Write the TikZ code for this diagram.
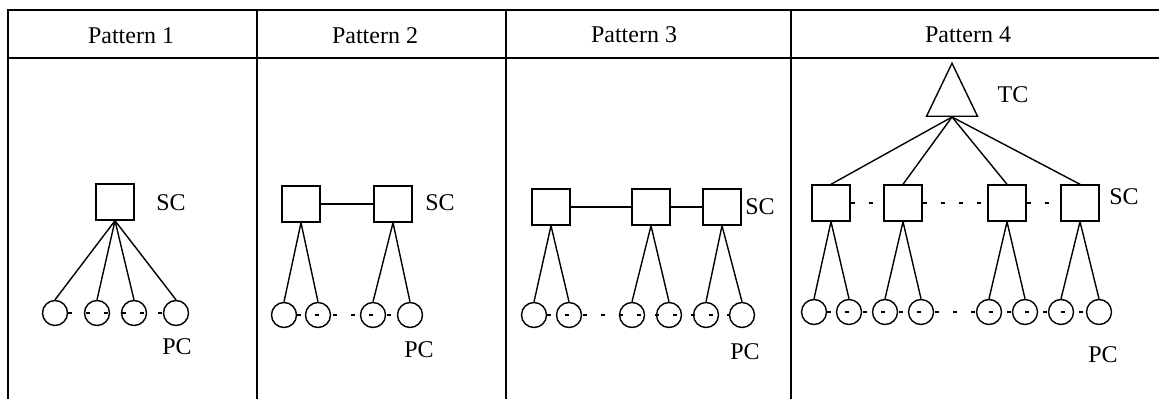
\documentclass[tikz,border=0pt]{standalone}
\usepackage{fontspec}
\setmainfont{Liberation Serif}
\usetikzlibrary{shapes.geometric}
\tikzset{
  sqbox/.style={draw, line width=0.7pt, minimum width=19pt, minimum height=18pt, inner sep=0pt},
  pcirc/.style={draw, circle, line width=0.7pt, minimum size=12.5pt, inner sep=0pt},
  tctri/.style={draw, isosceles triangle, isosceles triangle stretches, shape border rotate=90,
    minimum width=25.5pt, minimum height=26.5pt, inner sep=0pt, line width=0.7pt},
  link/.style={line width=0.7pt},
  dotlink/.style={line width=0.7pt, dash pattern=on 2pt off 7pt},
  lbl/.style={font=\fontsize{12}{14}\selectfont, inner sep=0pt}
}

\begin{document}
\begin{tikzpicture}[x=0.5pt,y=-0.5pt]
\useasboundingbox (0,0) rectangle (1159,399);
% Table frame
\draw[line width=0.6pt] (8,399) -- (8,10) -- (1159,10);
\draw[line width=0.6pt] (8,58) -- (1159,58);
\foreach \x in {257,506,791} \draw[line width=0.8pt] (\x,10) -- (\x,399);
% Headers
\node[lbl] (hd1) at (131,36) {Pattern 1};
\node[lbl] (hd2) at (375,36) {Pattern 2};
\node[lbl] (hd3) at (634,35) {Pattern 3};
\node[lbl] (hd4) at (968,35) {Pattern 4};

% Pattern 1: one SC
\node[sqbox] (a) at (115,202) {};
\node[lbl] (asc) at (171,203) {SC};
\foreach \i/\x in {1/55,2/97,3/134,4/176} \node[pcirc] (a\i) at (\x,313) {};
\draw[dotlink] (a1.east) -- (a4.west);
\foreach \i in {1,...,4} \draw[link] (a.south) -- (a\i.north);
\node[lbl] (apc) at (177,347) {PC};

% Pattern 2: two SC in a row
\node[sqbox] (b1) at (301,204) {};
\node[sqbox] (b2) at (393,204) {};
\draw[link] (b1.east) -- (b2.west);
\node[lbl] (bsc) at (440,203) {SC};
\foreach \i/\x in {1/284,2/318,3/373,4/410} \node[pcirc] (b\i c) at (\x,315) {};
\draw[dotlink] (b1c.east) -- (b4c.west);
\draw[link] (b1.south) -- (b1c.north);
\draw[link] (b1.south) -- (b2c.north);
\draw[link] (b2.south) -- (b3c.north);
\draw[link] (b2.south) -- (b4c.north);
\node[lbl] (bpc) at (419,350) {PC};

% Pattern 3: three SC
\node[sqbox] (c1) at (551,207) {};
\node[sqbox] (c2) at (651,207) {};
\node[sqbox] (c3) at (722,207) {};
\draw[link] (c1.east) -- (c2.west);
\draw[link] (c2.east) -- (c3.west);
\node[lbl] (csc) at (760,207) {SC};
\foreach \i/\x in {1/534,2/569,3/632,4/669,5/706,6/742} \node[pcirc] (c\i c) at (\x,315) {};
\draw[dotlink] (c1c.east) -- (c6c.west);
\draw[link] (c1.south) -- (c1c.north);
\draw[link] (c1.south) -- (c2c.north);
\draw[link] (c2.south) -- (c3c.north);
\draw[link] (c2.south) -- (c4c.north);
\draw[link] (c3.south) -- (c5c.north);
\draw[link] (c3.south) -- (c6c.north);
\node[lbl] (cpc) at (745,352) {PC};

% Pattern 4: TC over four SC
\node[tctri, anchor=lower side] (t) at (952,117) {};
\node[lbl] (ttc) at (1013,95) {TC};
\foreach \i/\x in {1/831,2/903,3/1007,4/1080} {
  \node[sqbox] (d\i) at (\x,203) {};
  \draw[link] (t.lower side) -- (d\i.north);
}
\draw[dotlink] (d1.east) -- (d2.west);
\draw[dotlink] (d2.east) -- (d3.west);
\draw[dotlink] (d3.east) -- (d4.west);
\node[lbl] (dsc) at (1124,197) {SC};
\foreach \i/\x in {1/814,2/849,3/885,4/921,5/989,6/1025,7/1061,8/1099} \node[pcirc] (d\i c) at (\x,312) {};
\draw[dotlink] (d1c.east) -- (d8c.west);
\draw[link] (d1.south) -- (d1c.north);
\draw[link] (d1.south) -- (d2c.north);
\draw[link] (d2.south) -- (d3c.north);
\draw[link] (d2.south) -- (d4c.north);
\draw[link] (d3.south) -- (d5c.north);
\draw[link] (d3.south) -- (d6c.north);
\draw[link] (d4.south) -- (d7c.north);
\draw[link] (d4.south) -- (d8c.north);
\node[lbl] (dpc) at (1103,355) {PC};
\end{tikzpicture}
\end{document}
